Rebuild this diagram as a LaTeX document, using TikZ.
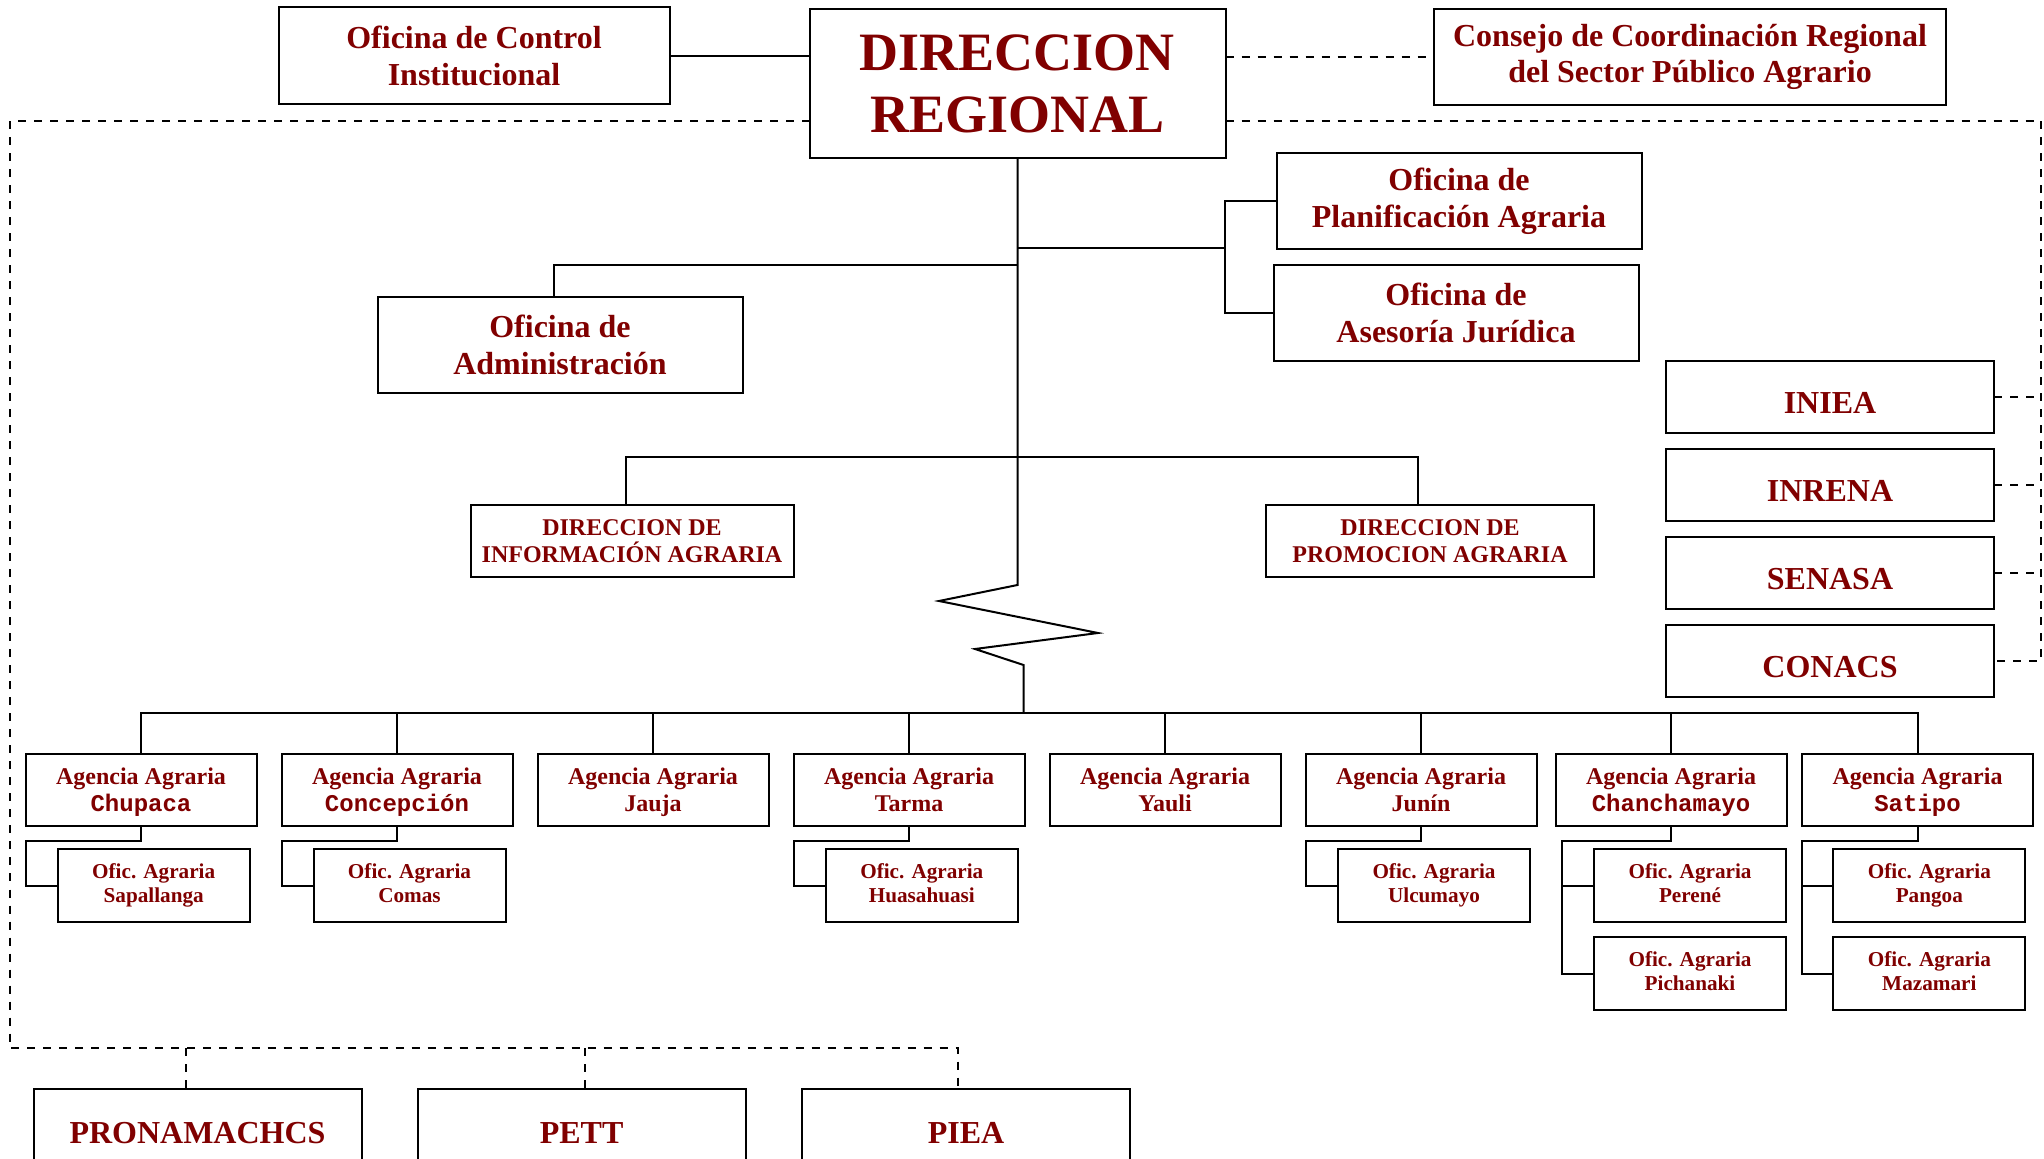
\documentclass[tikz,border=0pt]{standalone}
\usepackage{fontspec}
\setmainfont{Liberation Serif}
\setmonofont{Liberation Mono}
\definecolor{mar}{RGB}{128,0,0}
\newcommand{\dpt}{\rule[-2.3pt]{0pt}{0pt}}
\begin{document}
\begin{tikzpicture}[x=0.5pt,y=-0.5pt,
  bx/.style 2 args={draw, line width=1pt, minimum width=#1*0.5pt, minimum height=#2*0.5pt,
     inner sep=0pt, outer sep=0pt, align=center, text=mar},
  fDR/.style={font=\bfseries\fontsize{27}{30.8}\selectfont},
  fA/.style={font=\bfseries\fontsize{16}{18.4}\selectfont},
  fB/.style={font=\bfseries\fontsize{12}{13.5}\selectfont},
  fC/.style={font=\bfseries\fontsize{10.6}{12.2}\selectfont},
  lowtxt/.style={text height=16.6pt, text depth=0pt},
  ln/.style={line width=1pt},
  dl/.style={line width=0.8pt, dash pattern=on 4pt off 4pt}]
\useasboundingbox (0,0) rectangle (2044,1159);
\clip (0,0) rectangle (2044,1159);
% top level
\node[bx={391}{97},fA] (oci) at (474,56) {Oficina de Control\\Institucional};
\node[bx={416}{149},fDR] (dr) at (1017.5,84) {DIRECCION\\REGIONAL};
\node[bx={512}{96},fA] (ccr) at (1690,57) {Consejo de Coordinación Regional\\del Sector Público Agrario};
\node[bx={365}{96},fA] (opa) at (1459,201) {Oficina de\\Planificación Agraria};
\node[bx={365}{96},fA] (oaj) at (1456,313) {Oficina de\\Asesoría Jurídica};
\node[bx={365}{96},fA] (adm) at (560,345) {Oficina de\\Administración};
\node[bx={323}{72},fB] (dia) at (632,541.5) {DIRECCION DE\\INFORMACIÓN AGRARIA};
\node[bx={328}{72},fB] (dpa) at (1430,541.5) {DIRECCION DE\\PROMOCION AGRARIA};
% right column
\node[bx={328}{72},fA,lowtxt] (iniea) at (1830,397) {INIEA};
\node[bx={328}{72},fA,lowtxt] (inrena) at (1830,485) {INRENA};
\node[bx={328}{72},fA,lowtxt] (senasa) at (1830,573) {SENASA};
\node[bx={328}{72},fA,lowtxt] (conacs) at (1830,661) {CONACS};
% agencies
\node[bx={231}{72},fB] (chu) at (141,789.5) {Agencia Agraria\\\smash{\texttt{Chupaca}}};
\node[bx={231}{72},fB] (con) at (397,789.5) {Agencia Agraria\\\smash{\texttt{Concepción}}};
\node[bx={231}{72},fB] (jau) at (653,789.5) {Agencia Agraria\\\smash{Jauja}};
\node[bx={231}{72},fB] (tar) at (909,789.5) {Agencia Agraria\\\smash{Tarma}};
\node[bx={231}{72},fB] (yau) at (1165,789.5) {Agencia Agraria\\\smash{Yauli}};
\node[bx={231}{72},fB] (jun) at (1421,789.5) {Agencia Agraria\\\smash{Junín}};
\node[bx={231}{72},fB] (cha) at (1671,789.5) {Agencia Agraria\\\smash{\texttt{Chanchamayo}}};
\node[bx={231}{72},fB] (sat) at (1917.5,789.5) {Agencia Agraria\\\smash{\texttt{Satipo}}};
% sub offices
\node[bx={192}{73},fC] (sap) at (153.7,885.5) {Ofic. Agraria\\Sapallanga\dpt};
\node[bx={192}{73},fC] (com) at (409.5,885.5) {Ofic. Agraria\\Comas\dpt};
\node[bx={192}{73},fC] (hua) at (921.8,885.5) {Ofic. Agraria\\Huasahuasi\dpt};
\node[bx={192}{73},fC] (ulc) at (1434,885.5) {Ofic. Agraria\\Ulcumayo\dpt};
\node[bx={192}{73},fC] (per) at (1690,885.5) {Ofic. Agraria\\Perené\dpt};
\node[bx={192}{73},fC] (pic) at (1690,973.5) {Ofic. Agraria\\Pichanaki\dpt};
\node[bx={192}{73},fC] (pan) at (1929.3,885.5) {Ofic. Agraria\\Pangoa\dpt};
\node[bx={192}{73},fC] (maz) at (1929.3,973.5) {Ofic. Agraria\\Mazamari\dpt};
% bottom projects
\node[bx={328}{88},fA] (pro) at (197.5,1133) {PRONAMACHCS};
\node[bx={328}{88},fA] (pet) at (581.6,1133) {PETT};
\node[bx={328}{88},fA] (pie) at (966,1133) {PIEA};
% main trunk with break
\coordinate (z0) at (1017.5,585);
\coordinate (z1) at (939,601);
\coordinate (z2) at (1098,633);
\coordinate (z3) at (975,649);
\coordinate (z4) at (1023.5,665);
\coordinate (ab) at (1023.5,713);
\draw[ln] (dr.south) -- (z0) -- (z1) -- (z2) -- (z3) -- (z4) -- (ab);
% top connectors
\draw[ln] (oci.east) -- (oci.east -| dr.west);
\draw[dl] (dr.east |- ccr.west) -- (ccr.west);
\coordinate (pb) at (1225,248);
\draw[ln] (dr.south |- pb) -- (pb);
\draw[ln] (opa.west) -- (opa.west -| pb) -- (oaj.west -| pb) -- (oaj.west);
\coordinate (ah) at (1017.5,265);
\coordinate (admt) at ([xshift=-3pt]adm.north);
\draw[ln] (ah) -| (admt);
\coordinate (dh) at (1017.5,457);
\coordinate (diat) at ([xshift=-2.8pt]dia.north);
\coordinate (dpat) at ([xshift=-6pt]dpa.north);
\draw[ln] (diat) |- (dpat |- dh) -- (dpat);
% agencies bar
\draw[ln] (chu.north) |- (sat.north |- ab) -- (sat.north);
\foreach \n in {con,jau,tar,yau,jun,cha} \draw[ln] (\n.north) -- (\n.north |- ab);
% sub-office brackets
\draw[ln] (chu.south) -- ++(0,15.5) -| (sap.west -| chu.west) -- (sap.west);
\draw[ln] (con.south) -- ++(0,15.5) -| (com.west -| con.west) -- (com.west);
\draw[ln] (tar.south) -- ++(0,15.5) -| (hua.west -| tar.west) -- (hua.west);
\draw[ln] (jun.south) -- ++(0,15.5) -| (ulc.west -| jun.west) -- (ulc.west);
\coordinate (chb) at ([xshift=3.3pt]cha.west);
\draw[ln] (cha.south) -- ++(0,15.5) -| (pic.west -| chb) -- (pic.west);
\draw[ln] (per.west) -- (per.west -| chb);
\draw[ln] (sat.south) -- ++(0,15.5) -| (maz.west -| sat.west) -- (maz.west);
\draw[ln] (pan.west) -- (pan.west -| sat.west);
% dashed frame
\coordinate (fl) at (10,121);
\coordinate (fr) at (2041,121);
\coordinate (fb) at (10,1048);
\coordinate (pied) at ([xshift=-4pt]pie.north);
\coordinate (prod) at ([xshift=-5.75pt]pro.north);
\coordinate (petd) at ([xshift=1.7pt]pet.north);
\draw[dl] (dr.west |- fl) -- (fl) -- (fb) -- (fb -| pied) -- (pied);
\draw[dl] (prod |- fb) -- (prod);
\draw[dl] (petd |- fb) -- (petd);
\draw[dl] (dr.east |- fr) -- (fr) -- (fr |- conacs.east) -- (conacs.east);
\foreach \n in {iniea,inrena,senasa} \draw[dl] (\n.east) -- (\n.east -| fr);
\end{tikzpicture}
\end{document}
